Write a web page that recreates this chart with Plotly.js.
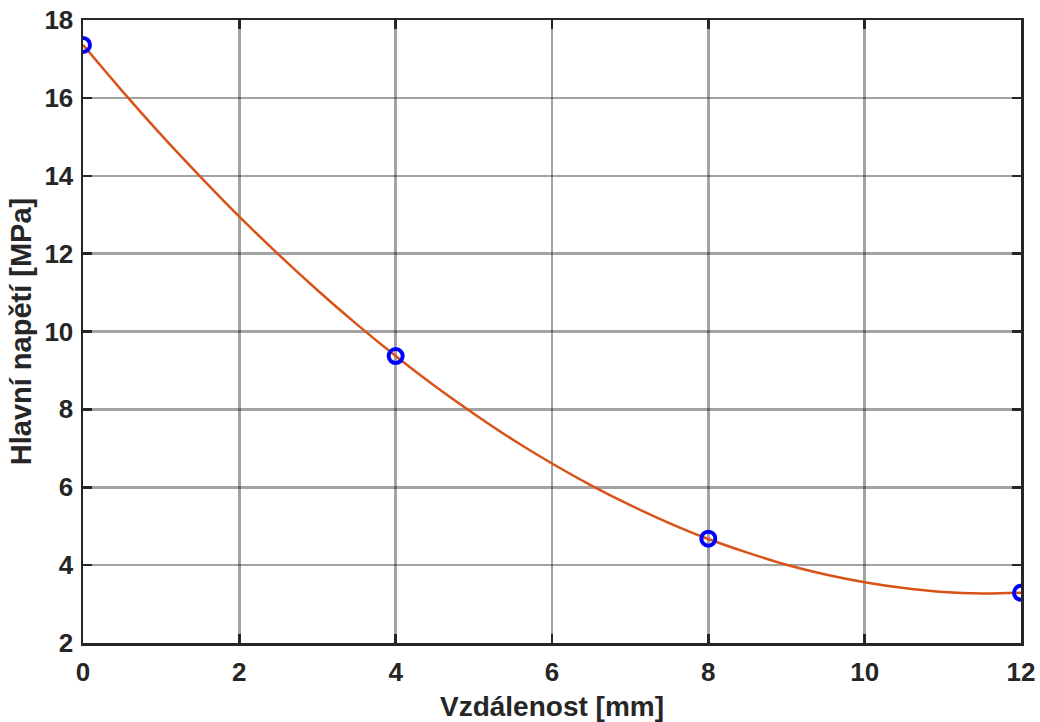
<!DOCTYPE html>
<html>
<head>
<meta charset="utf-8">
<script src="https://cdn.plot.ly/plotly-3.0.1.min.js"></script>
<style>html,body{margin:0;padding:0;background:#fff;}#chart{width:1040px;height:722px;}</style>
</head>
<body>
<div id="chart"></div>
<script>
// Measured points (blue circles)
const pointX = [0, 4, 8, 12];
const pointY = [17.36, 9.37, 4.68, 3.29];

// Fitted curve (orange)
const curveX = [0, 0.5, 1, 1.5, 2, 2.5, 3, 3.5, 4, 4.5, 5, 5.5, 6, 6.5, 7, 7.5, 8, 8.5, 9, 9.5, 10, 10.5, 11, 11.5, 12];
const curveY = [17.36, 16.18, 15.05, 13.98, 12.95, 11.98, 11.06, 10.19, 9.37, 8.60, 7.89, 7.22, 6.61, 6.05, 5.54, 5.08, 4.67, 4.32, 4.01, 3.76, 3.56, 3.41, 3.31, 3.27, 3.29];

const xTicks = [0, 2, 4, 6, 8, 10, 12];
const yTicks = [2, 4, 6, 8, 10, 12, 14, 16, 18];

const xTitle = 'Vzdálenost [mm]';
const yTitle = 'Hlavní napětí [MPa]';

const axisColor = '#262626';
const gridColor = 'rgba(0,0,0,0.36)';
const fontFam = '"Liberation Sans", Arial, Helvetica, sans-serif';

const traces = [
  {
    x: curveX, y: curveY, type: 'scatter', mode: 'lines',
    line: {color: '#D95319', width: 2.5, shape: 'spline', smoothing: 1},
    hoverinfo: 'skip'
  },
  {
    x: pointX, y: pointY, type: 'scatter', mode: 'markers',
    marker: {symbol: 'circle-open', size: 14, color: '#0000FF', line: {width: 4, color: '#0000FF'}}
  }
];

const axisCommon = {
  showline: true, linecolor: axisColor, linewidth: 2.5, mirror: 'ticks',
  ticks: 'inside', ticklen: 9, tickwidth: 2.5, tickcolor: axisColor,
  showgrid: true, gridcolor: gridColor, gridwidth: 2.5,
  zeroline: false,
  tickfont: {family: fontFam, size: 26, color: axisColor, weight: 'bold'}
};

const layout = {
  width: 1040, height: 722,
  margin: {l: 83, r: 19, t: 20, b: 79},
  paper_bgcolor: '#ffffff', plot_bgcolor: '#ffffff',
  showlegend: false,
  font: {family: fontFam, color: axisColor},
  xaxis: Object.assign({}, axisCommon, {
    range: [0, 12], tickmode: 'array', tickvals: xTicks, ticktext: xTicks.map(String),
    ticklabelstandoff: 4,
    title: {text: '<b>' + xTitle + '</b>', font: {family: fontFam, size: 28, color: axisColor}, standoff: 16}
  }),
  yaxis: Object.assign({}, axisCommon, {
    range: [2, 18], tickmode: 'array', tickvals: yTicks, ticktext: yTicks.map(String),
    ticklabelstandoff: 2,
    title: {text: '<b>' + yTitle + '</b>', font: {family: fontFam, size: 29, color: axisColor}, standoff: 4}
  })
};

Plotly.newPlot('chart', traces, layout, {staticPlot: true, displayModeBar: false});
</script>
</body>
</html>
